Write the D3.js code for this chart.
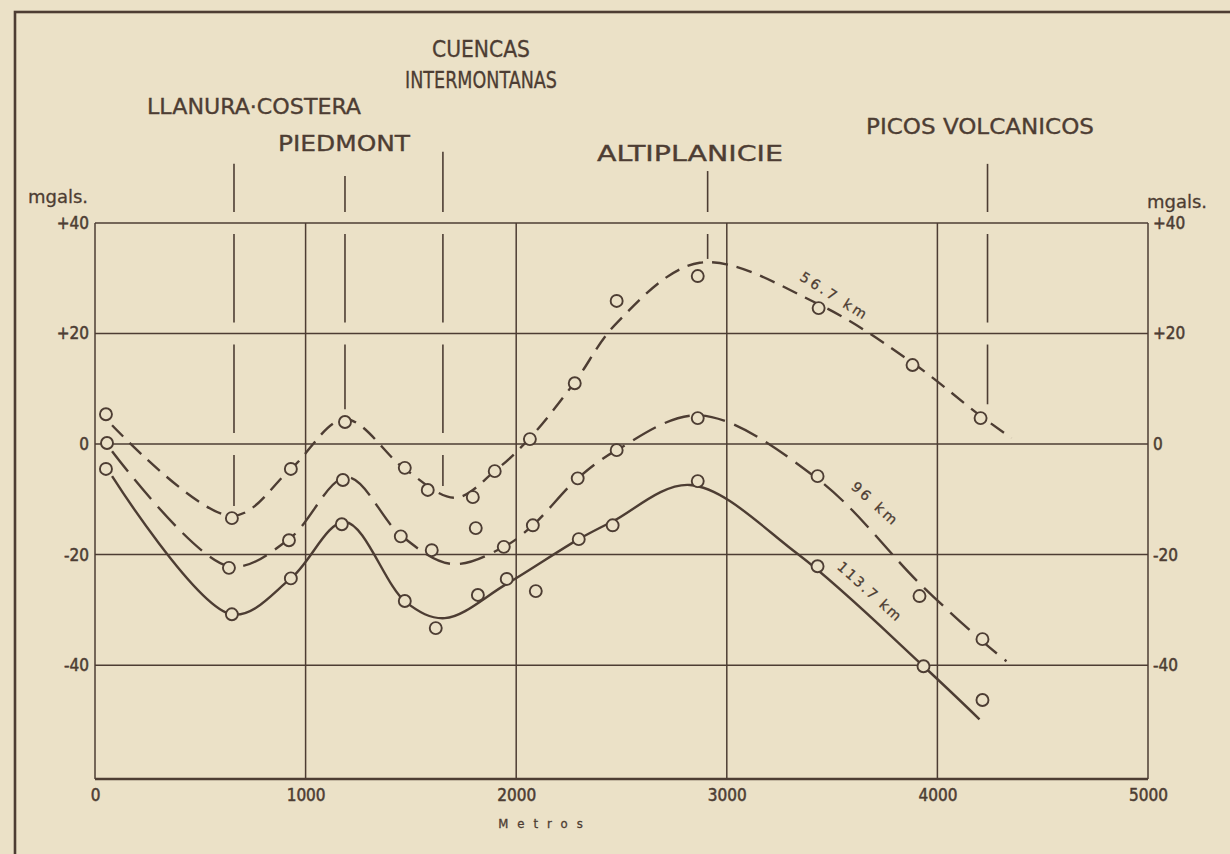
<!DOCTYPE html>
<html>
<head>
<meta charset="utf-8">
<script src="https://cdn.jsdelivr.net/npm/d3@7"></script>
<style>
  html, body { margin: 0; padding: 0; background: #ebe1c7; }
  svg { display: block; }
</style>
</head>
<body>
<script>
// gravity profile, three compensation depths
var width = 1230, height = 854;
var ink = "#4d3d33", paper = "#ebe1c7";

// axes
var xTicks = [0, 1000, 2000, 3000, 4000, 5000];
var yTicks = [40, 20, 0, -20, -40];
var yTickLabels = ["+40", "+20", "0", "-20", "-40"];
var yBottom = -60.6;

// observed points (metros, mgals)
var obsX_567 = [52, 650, 930, 1187, 1471, 1580, 1794, 1898, 2065, 2278, 2477, 2862, 3436, 3882, 4205];
var obsY_567 = [5.4, -13.4, -4.5, 4.0, -4.3, -8.3, -9.6, -4.9, 0.9, 11.0, 25.9, 30.4, 24.6, 14.3, 4.7];
var obsX_96 = [57, 636, 921, 1177, 1452, 1599, 1808, 1941, 2079, 2292, 2477, 2862, 3431, 3915, 4214];
var obsY_96 = [0.2, -22.4, -17.4, -6.5, -16.7, -19.2, -15.2, -18.6, -14.7, -6.2, -1.1, 4.7, -5.8, -27.5, -35.3];
var obsX_1137 = [52, 650, 930, 1172, 1471, 1618, 1818, 1955, 2093, 2297, 2458, 2862, 3431, 3934, 4214];
var obsY_1137 = [-4.5, -30.8, -24.3, -14.5, -28.4, -33.3, -27.3, -24.4, -26.6, -17.2, -14.7, -6.7, -22.1, -40.2, -46.3];

// smoothed curves
var curveX_567 = [81, 650, 930, 1187, 1471, 1710, 1898, 2065, 2278, 2477, 2871, 3436, 3882, 4205, 4352];
var curveY_567 = [3.4, -13.0, -4.5, 4.5, -4.5, -9.7, -4.9, 1.1, 11.2, 21.9, 32.8, 25.3, 14.7, 5.1, 1.1];
var curveX_96 = [81, 636, 921, 1196, 1452, 1694, 1941, 2079, 2292, 2477, 2871, 3431, 3915, 4214, 4328];
var curveY_96 = [-1.3, -22.1, -17.2, -6.0, -16.5, -21.7, -18.6, -14.7, -6.2, -1.1, 5.2, -6.3, -25.2, -35.7, -39.3];
var curveX_1137 = [81, 650, 930, 1187, 1476, 1661, 1955, 2297, 2458, 2824, 3337, 3934, 4200];
var curveY_1137 = [-5.8, -30.8, -24.3, -14.1, -28.6, -31.5, -25.3, -17.2, -14.0, -7.4, -19.9, -40.2, -49.8];

var seriesNames = ["56.7 km", "96 km", "113.7 km"];

// physiographic provinces
var regionNames = ["LLANURA\u00b7COSTERA", "PIEDMONT", "CUENCAS|INTERMONTANAS", "ALTIPLANICIE", "PICOS VOLCANICOS"];
var regionX = [660, 1187, 1652, 2909, 4238];
var regionTop = [50.7, 48.5, 52.9, 49.4, 50.7];
var regionEnd = [-11.2, 6.3, -7.6, 33.5, 7.2];

var x = d3.scaleLinear().domain([0, 5000]).range([95, 1148]);
var y = d3.scaleLinear().domain([yBottom, 40]).range([779, 223]);

var svg = d3.select("body").append("svg")
    .attr("width", width)
    .attr("height", height);

svg.append("rect").attr("width", width).attr("height", height).attr("fill", paper);

// outer frame (right and bottom edges fall outside the page)
svg.append("rect")
    .attr("x", 15).attr("y", 12)
    .attr("width", 1240).attr("height", 870)
    .attr("fill", "none").attr("stroke", ink).attr("stroke-width", 2.6);

// grid
var grid = svg.append("g").attr("stroke", ink).attr("stroke-width", 1.5);
grid.selectAll(".h").data(yTicks).enter().append("line")
    .attr("x1", x(0)).attr("x2", x(5000))
    .attr("y1", function(d) { return y(d); }).attr("y2", function(d) { return y(d); });
grid.selectAll(".v").data(xTicks).enter().append("line")
    .attr("x1", function(d) { return x(d); }).attr("x2", function(d) { return x(d); })
    .attr("y1", y(40)).attr("y2", y(yBottom));
grid.append("line")
    .attr("x1", x(0)).attr("x2", x(5000))
    .attr("y1", y(yBottom)).attr("y2", y(yBottom))
    .attr("stroke-width", 2.4);

// axis labels
var left = svg.append("g")
    .attr("transform", "translate(" + x(0) + ",0)")
    .call(d3.axisLeft(y).tickValues(yTicks).tickSize(0).tickPadding(6)
        .tickFormat(function(d, i) { return yTickLabels[i]; }));
var right = svg.append("g")
    .attr("transform", "translate(" + x(5000) + ",0)")
    .call(d3.axisRight(y).tickValues(yTicks).tickSize(0).tickPadding(5)
        .tickFormat(function(d, i) { return yTickLabels[i]; }));
var bottom = svg.append("g")
    .attr("transform", "translate(0," + y(yBottom) + ")")
    .call(d3.axisBottom(x).tickValues(xTicks).tickSize(0).tickPadding(10)
        .tickFormat(d3.format("d")));
[left, right, bottom].forEach(function(g) {
    g.select(".domain").remove();
    g.selectAll("text")
        .attr("font-family", "DejaVu Sans Condensed")
        .attr("font-size", "17px")
        .attr("fill", ink)
        .attr("stroke", ink).attr("stroke-width", 0.5);
});

svg.append("text").attr("x", 28).attr("y", 203)
    .attr("font-family", "DejaVu Sans").attr("font-size", "18px")
    .attr("fill", ink).attr("stroke", ink).attr("stroke-width", 0.3).text("mgals.");
svg.append("text").attr("x", 1147).attr("y", 208)
    .attr("font-family", "DejaVu Sans").attr("font-size", "18px")
    .attr("fill", ink).attr("stroke", ink).attr("stroke-width", 0.3).text("mgals.");
svg.append("text").attr("x", 545).attr("y", 828).attr("text-anchor", "middle")
    .attr("font-family", "DejaVu Sans Condensed").attr("font-size", "13px")
    .attr("letter-spacing", "9px").attr("fill", ink)
    .attr("stroke", ink).attr("stroke-width", 0.3).text("Metros");

// province marker lines, broken where they cross the grid
var gap = 11;
regionX.forEach(function(rx, i) {
    var y0 = y(regionTop[i]), y1 = y(regionEnd[i]);
    var cuts = yTicks.map(y).filter(function(c) { return c > y0 && c < y1; }).sort(d3.ascending);
    var segs = [], s = y0;
    cuts.forEach(function(c) { segs.push([s, c - gap]); s = c + gap; });
    segs.push([s, y1]);
    svg.selectAll(null).data(segs).enter().append("line")
        .attr("x1", x(rx)).attr("x2", x(rx))
        .attr("y1", function(d) { return d[0]; }).attr("y2", function(d) { return d[1]; })
        .attr("stroke", ink).attr("stroke-width", 1.6);
});

// province names
var regionLabelPos = [[254, 114, 214], [344, 151, 132], [481, 57, 98], [690, 161, 186], [980, 134, 228]];
regionNames.forEach(function(name, i) {
    var p = regionLabelPos[i];
    var parts = name.split("|");
    parts.forEach(function(t, j) {
        var tl = j === 0 ? p[2] : 152;
        svg.append("text")
            .attr("x", p[0]).attr("y", p[1] + j * 31)
            .attr("text-anchor", "middle")
            .attr("font-family", "DejaVu Sans Condensed")
            .attr("font-size", parts.length > 1 ? "23px" : "21px")
            .attr("fill", ink)
            .attr("stroke", ink).attr("stroke-width", 0.3)
            .attr("textLength", tl).attr("lengthAdjust", "spacingAndGlyphs")
            .text(t);
    });
});

// curves
var line = d3.line()
    .x(function(d) { return x(d[0]); })
    .y(function(d) { return y(d[1]); })
    .curve(d3.curveCatmullRom.alpha(0.5));

var curves = [
    { xs: curveX_567, ys: curveY_567, dash: "16,9" },
    { xs: curveX_96, ys: curveY_96, dash: "26,10" },
    { xs: curveX_1137, ys: curveY_1137, dash: null }
];
curves.forEach(function(c) {
    svg.append("path")
        .datum(d3.zip(c.xs, c.ys))
        .attr("d", line)
        .attr("fill", "none")
        .attr("stroke", ink)
        .attr("stroke-width", 2.4)
        .attr("stroke-dasharray", c.dash);
});

// observation circles
var obs = [[obsX_567, obsY_567], [obsX_96, obsY_96], [obsX_1137, obsY_1137]];
obs.forEach(function(o) {
    svg.append("g").selectAll("circle")
        .data(d3.zip(o[0], o[1]))
        .enter().append("circle")
        .attr("cx", function(d) { return x(d[0]); })
        .attr("cy", function(d) { return y(d[1]); })
        .attr("r", 6)
        .attr("fill", paper)
        .attr("stroke", ink)
        .attr("stroke-width", 1.9);
});

// depth labels along the curves
var seriesLabelPos = [[3500, 26.0, 32], [3690, -11.5, 42], [3665, -27.4, 42]];
var seriesSpacing = [3, 3, 2];
seriesNames.forEach(function(name, i) {
    var p = seriesLabelPos[i];
    svg.append("text")
        .attr("transform", "translate(" + x(p[0]) + "," + y(p[1]) + ") rotate(" + p[2] + ")")
        .attr("text-anchor", "middle")
        .attr("font-family", "DejaVu Sans")
        .attr("font-size", "14px")
        .attr("letter-spacing", seriesSpacing[i] + "px")
        .attr("fill", ink)
        .attr("stroke", ink).attr("stroke-width", 0.3)
        .text(name);
});
</script>
</body>
</html>
